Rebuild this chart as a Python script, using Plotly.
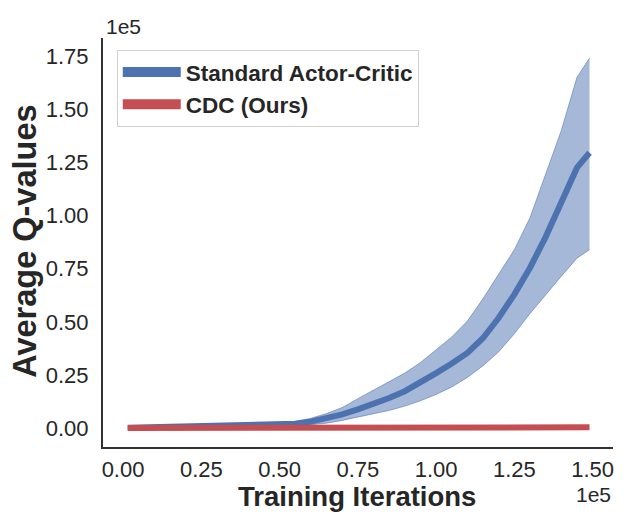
import plotly.graph_objects as go

# Data
iters = [1500, 10000, 20000, 30000, 40000, 50000, 55000, 60000, 65000, 70000,
         75000, 80000, 85000, 90000, 95000, 100000, 105000, 110000, 115000,
         120000, 125000, 130000, 135000, 140000, 145000, 149000]
ac_mean = [300, 500, 800, 1000, 1300, 1700, 2200, 3200, 4700, 6600,
           9000, 11500, 14300, 17500, 21500, 26000, 30500, 35500, 42500,
           52000, 63000, 75500, 90000, 106000, 122500, 129500]
ac_upper = [400, 700, 1100, 1400, 1800, 2400, 3300, 4800, 7000, 9800,
            14000, 18000, 22000, 26000, 31000, 37000, 43000, 50500, 61000,
            72500, 84000, 99000, 119000, 140000, 165000, 174000]
ac_lower = [200, 350, 550, 700, 900, 1200, 1400, 1800, 2500, 3800,
            5300, 6800, 8500, 10500, 13000, 16000, 19500, 24000, 29500,
            36000, 44500, 54000, 63000, 71500, 80000, 84000]
cdc_mean = [200, 250, 300, 320, 340, 360, 370, 380, 390, 400,
            410, 420, 430, 440, 450, 460, 470, 480, 490,
            500, 510, 520, 530, 540, 550, 560]

x_ticks = [0, 25000, 50000, 75000, 100000, 125000, 150000]
x_tick_text = ["0.00", "0.25", "0.50", "0.75", "1.00", "1.25", "1.50"]
y_ticks = [0, 25000, 50000, 75000, 100000, 125000, 150000, 175000]
y_tick_text = ["0.00", "0.25", "0.50", "0.75", "1.00", "1.25", "1.50", "1.75"]

blue = "#4C72B0"
red = "#C44E52"
text_col = "#262626"
font = "Liberation Sans, Arial, sans-serif"

fig = go.Figure()

# shaded band for actor-critic
fig.add_trace(go.Scatter(x=iters, y=ac_lower, mode="lines",
                         line=dict(color="rgba(76,114,176,0.55)", width=1),
                         showlegend=False, hoverinfo="skip"))
fig.add_trace(go.Scatter(x=iters, y=ac_upper, mode="lines",
                         line=dict(color="rgba(76,114,176,0.55)", width=1),
                         fill="tonexty", fillcolor="rgba(76,114,176,0.5)",
                         showlegend=False, hoverinfo="skip"))

fig.add_trace(go.Scatter(x=iters, y=ac_mean, mode="lines", showlegend=False,
                         line=dict(color=blue, width=6)))
fig.add_trace(go.Scatter(x=iters, y=cdc_mean, mode="lines", showlegend=False,
                         line=dict(color=red, width=6)))

# legend entries (thicker lines as in the reference legend)
fig.add_trace(go.Scatter(x=[None], y=[None], mode="lines", name="Standard Actor-Critic",
                         line=dict(color=blue, width=10)))
fig.add_trace(go.Scatter(x=[None], y=[None], mode="lines", name="CDC (Ours)",
                         line=dict(color=red, width=10)))

# the page body adds an 8px offset, so margins are shifted to compensate
fig.update_layout(
    width=624, height=522,
    plot_bgcolor="white", paper_bgcolor="white",
    margin=dict(l=95, r=19, t=30, b=83),
    font=dict(family=font, color=text_col),
    legend=dict(
        x=0.027, y=0.971, xanchor="left", yanchor="top", traceorder="normal",
        bgcolor="white", bordercolor="#d0d0d0", borderwidth=1,
        font=dict(size=22.5, family=font, color=text_col, weight="bold"),
        itemwidth=58, tracegroupgap=0,
    ),
    showlegend=True,
)

fig.update_xaxes(
    range=[-6400, 156500], tickvals=x_ticks, ticktext=x_tick_text, automargin=False,
    showgrid=False, zeroline=False, showline=True, linecolor="#333333", linewidth=2,
    ticks="", ticklabelstandoff=2, tickfont=dict(size=22, color=text_col),
)
fig.update_yaxes(
    range=[-8700, 183400], tickvals=y_ticks, ticktext=y_tick_text, automargin=False,
    showgrid=False, zeroline=False, showline=True, linecolor="#333333", linewidth=2,
    ticks="", ticklabelstandoff=8, tickfont=dict(size=22, color=text_col),
)

# axis titles
fig.add_annotation(text="<b>Training Iterations</b>", xref="paper", yref="paper",
                   x=0.498, y=-0.12, xanchor="center", yanchor="middle", showarrow=False,
                   font=dict(size=27.5, color=text_col))
fig.add_annotation(text="<b>Average Q-values</b>", xref="paper", yref="paper",
                   x=-0.153, y=0.504, xanchor="center", yanchor="middle", showarrow=False,
                   textangle=-90, font=dict(size=32.5, color=text_col))

# offset labels like matplotlib's scientific notation
fig.add_annotation(text="1e5", xref="paper", yref="paper", x=0.0, y=1.0,
                   xanchor="left", yanchor="bottom", showarrow=False, xshift=1, yshift=-2,
                   font=dict(size=21, color=text_col))
fig.add_annotation(text="1e5", xref="paper", yref="paper", x=1.0, y=0.0,
                   xanchor="right", yanchor="top", showarrow=False, xshift=0, yshift=-34,
                   font=dict(size=21, color=text_col))

fig.write_html("out.html")
